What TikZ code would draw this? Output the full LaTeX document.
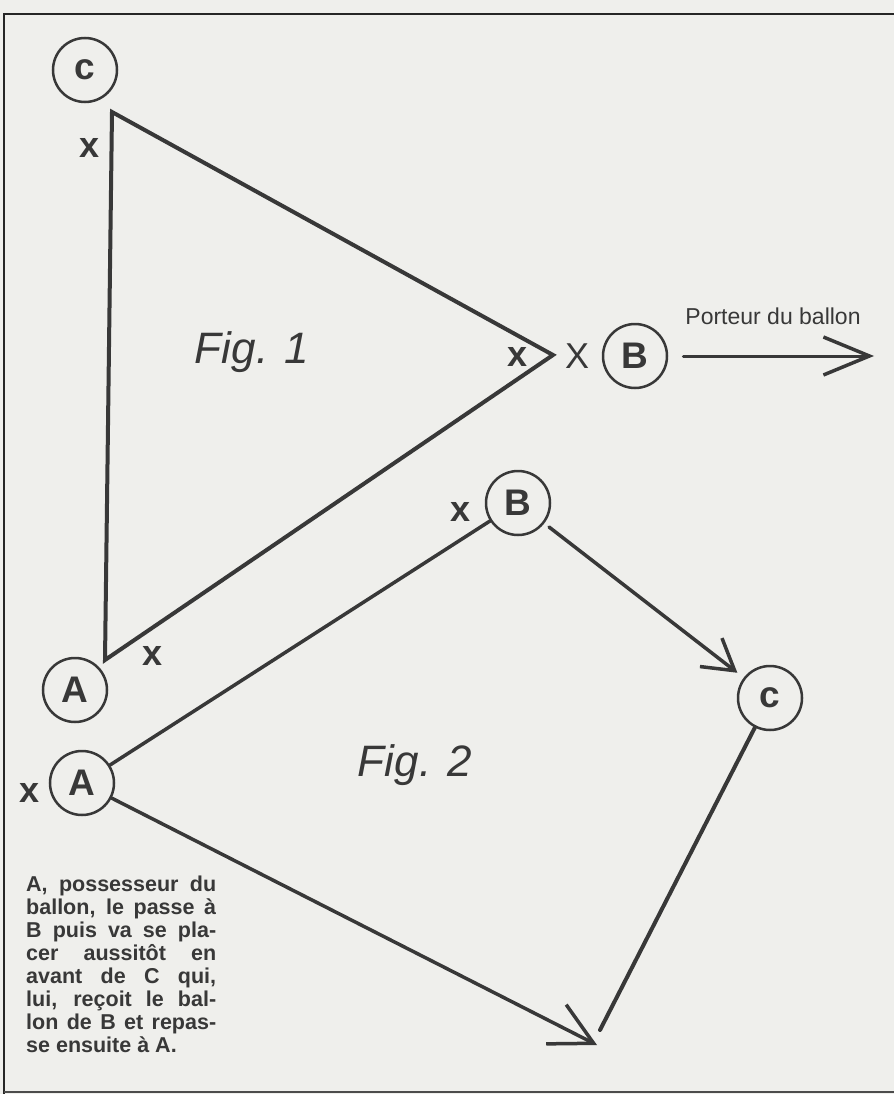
\documentclass[tikz,border=0pt]{standalone}
\usepackage{fontspec}
\setmainfont{Liberation Sans}
\usetikzlibrary{arrows.meta}
\definecolor{ink}{HTML}{383838}
\definecolor{paper}{HTML}{EFEFEC}
\begin{document}
\begin{tikzpicture}[x=1pt,y=-1pt,
  player/.style={circle,draw=ink,line width=2.5pt,minimum size=64pt,inner sep=0pt,
    font=\bfseries\fontsize{37}{37}\selectfont,text=ink},
  stroke/.style={draw=ink,line width=4pt,line cap=round},
  xmark/.style={font=\bfseries\fontsize{36}{36}\selectfont,text=ink,inner sep=0pt},
  figlabel/.style={font=\itshape\fontsize{44}{44}\selectfont,text=ink},
  label text/.style={font=\fontsize{23}{23}\selectfont,text=ink,inner sep=0pt}
]
\useasboundingbox (0,0) rectangle (894,1094);
\fill[paper] (0,0) rectangle (894,1094);
% frame
\draw[black!85,line width=2pt] (4,1094) -- (4,14) -- (894,14);
\draw[black!70,line width=1.5pt] (4,1092) -- (894,1092);

% players
\node[player] (C1) at (85,70) {c};
\node[player] (B1) at (635,356) {B};
\node[player] (A1) at (75,690) {A};
\node[player] (B2) at (518,503) {B};
\node[player] (C2) at (770,698) {c};
\node[player] (A2) at (82,783) {A};

% Fig. 1 triangle
\coordinate (T1) at (112,112);
\coordinate (T2) at (553,355);
\coordinate (T3) at (105,660);
\draw[stroke,line join=miter] (T1) -- (T2) -- (T3) -- cycle;

% carrier arrow
\coordinate (P) at (874,356);
\draw[stroke,line width=3pt,shorten <=15pt,-{Straight Barb[length=46pt,width=38pt,line width=3.5pt]}] (B1) -- (P);
\node[label text] (porteur) at (773,316) {Porteur du ballon};

% marks
\node[xmark] (x1) at (90,148) {x};
\node[xmark] (x2) at (518,357) {x};
\node[xmark] (x3) at (153,656) {x};
\node[xmark] (x4) at (461,512) {x};
\node[xmark] (x5) at (30,793) {x};
\node[text=ink,inner sep=0pt,font=\fontsize{36}{36}\selectfont] (X1) at (577,356) {X};

% labels
\node[figlabel] (fig1) at (252,352) {Fig. 1};
\node[figlabel] (fig2) at (415,765) {Fig. 2};

% Fig. 2
\coordinate (E1) at (600,1030);
\coordinate (E2) at (597,1045);
\draw[stroke,line width=3.5pt] (A2) -- (B2);
\draw[stroke,line width=3.5pt,shorten <=6pt,shorten >=8pt,-{Straight Barb[length=30pt,width=36pt,line width=3.5pt]}] (B2) -- (C2);
\draw[stroke,line width=4pt] (C2) -- (E1);
\draw[stroke,line width=3.5pt,-{Straight Barb[length=42pt,width=44pt,line width=3.5pt]}] (A2) -- (E2);

% caption
\node[anchor=north west,text width=190pt,align=justify,inner sep=0pt,text=ink,
  font=\bfseries\fontsize{21.5}{23}\selectfont] (caption) at (26,876)
  {A, possesseur du\linebreak ballon, le passe à\linebreak B puis va se pla-\linebreak
   cer aussitôt en\linebreak avant de C qui,\linebreak lui, reçoit le bal-\linebreak
   lon de B et repas-\linebreak se ensuite à A.};
\end{tikzpicture}
\end{document}
